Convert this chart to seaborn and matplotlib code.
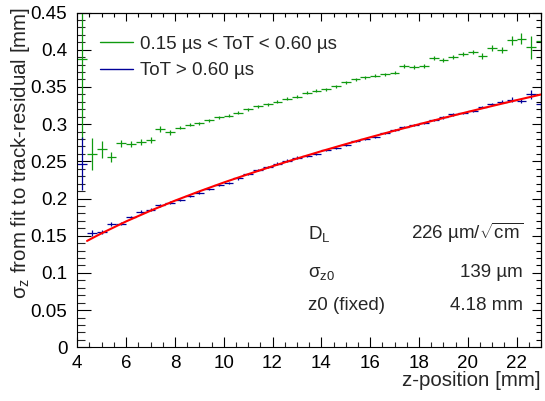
import matplotlib
matplotlib.use("Agg")
import matplotlib.pyplot as plt
from matplotlib.lines import Line2D
from matplotlib.ticker import FixedLocator, MultipleLocator
import seaborn as sns

# bin centres along z [mm], bin width 0.4 mm
Z_CENTERS = [4.2, 4.6, 5.0, 5.4, 5.8, 6.2, 6.6, 7.0, 7.4, 7.8,
             8.2, 8.6, 9.0, 9.4, 9.8, 10.2, 10.6, 11.0, 11.4, 11.8,
             12.2, 12.6, 13.0, 13.4, 13.8, 14.2, 14.6, 15.0, 15.4, 15.8,
             16.2, 16.6, 17.0, 17.4, 17.8, 18.2, 18.6, 19.0, 19.4, 19.8,
             20.2, 20.6, 21.0, 21.4, 21.8, 22.2, 22.6, 23.0]
BIN_HALF_WIDTH = 0.2

# 0.15 us < ToT < 0.60 us
SIGMA_MID_TOT = [0.388, 0.260, 0.266, 0.256, 0.274, 0.273, 0.276, 0.279, 0.294, 0.289,
                 0.295, 0.299, 0.301, 0.305, 0.309, 0.311, 0.315, 0.320, 0.324, 0.327,
                 0.330, 0.334, 0.337, 0.342, 0.345, 0.347, 0.351, 0.356, 0.360, 0.363,
                 0.365, 0.367, 0.369, 0.378, 0.377, 0.378, 0.389, 0.386, 0.390, 0.394,
                 0.397, 0.391, 0.402, 0.399, 0.413, 0.415, 0.403, 0.412]
ERR_MID_TOT = [0.110, 0.022, 0.011, 0.007, 0.005, 0.004, 0.004, 0.004, 0.004, 0.003,
               0.002, 0.002, 0.002, 0.002, 0.002, 0.002, 0.002, 0.002, 0.002, 0.002,
               0.002, 0.002, 0.002, 0.002, 0.002, 0.002, 0.002, 0.002, 0.002, 0.002,
               0.002, 0.002, 0.002, 0.003, 0.003, 0.003, 0.003, 0.003, 0.003, 0.003,
               0.003, 0.004, 0.004, 0.004, 0.006, 0.007, 0.015, 0.026]

# ToT > 0.60 us
SIGMA_HIGH_TOT = [0.247, 0.153, 0.155, 0.166, 0.166, 0.175, 0.182, 0.185, 0.191, 0.194,
                  0.198, 0.203, 0.208, 0.213, 0.218, 0.221, 0.227, 0.233, 0.238, 0.242,
                  0.247, 0.251, 0.255, 0.257, 0.260, 0.265, 0.268, 0.272, 0.277, 0.280,
                  0.283, 0.288, 0.292, 0.296, 0.299, 0.301, 0.306, 0.309, 0.313, 0.315,
                  0.318, 0.323, 0.327, 0.330, 0.333, 0.331, 0.340, 0.327]
ERR_HIGH_TOT = [0.036, 0.004, 0.003, 0.003, 0.002, 0.002, 0.002, 0.002, 0.002, 0.002,
                0.0015, 0.0015, 0.0015, 0.0015, 0.0015, 0.0015, 0.0015, 0.0015, 0.0015, 0.0015,
                0.0015, 0.0015, 0.0015, 0.0015, 0.0015, 0.0015, 0.0015, 0.0015, 0.0015, 0.0015,
                0.0015, 0.0015, 0.0015, 0.0015, 0.0015, 0.0015, 0.0015, 0.0015, 0.0015, 0.0015,
                0.0015, 0.0015, 0.0015, 0.002, 0.003, 0.003, 0.006, 0.011]

# fitted curve
FIT_Z = [4.4, 4.7, 5.0, 6.0, 7.0, 8.0, 9.0, 10.0, 11.0, 12.0, 13.0, 14.0,
         15.0, 16.0, 17.0, 18.0, 19.0, 20.0, 21.0, 22.0, 23.0]
FIT_SIGMA = [0.1430, 0.1482, 0.1533, 0.1692, 0.1836, 0.1971, 0.2096, 0.2215, 0.2327,
             0.2434, 0.2537, 0.2636, 0.2731, 0.2823, 0.2912, 0.2998, 0.3082, 0.3164,
             0.3244, 0.3322, 0.3398]

X_TICKS = [4, 6, 8, 10, 12, 14, 16, 18, 20, 22]
Y_TICKS = [0, 0.05, 0.1, 0.15, 0.2, 0.25, 0.3, 0.35, 0.4, 0.45]
Y_TICK_LABELS = ["0", "0.05", "0.1", "0.15", "0.2", "0.25", "0.3", "0.35", "0.4", "0.45"]

LEGEND_LABELS = ["0.15 µs < ToT < 0.60 µs", "ToT > 0.60 µs"]
PARAM_NAMES = ["D$_{L}$", r"$\sigma_{z0}$", "z0 (fixed)"]
PARAM_VALUES = [r"226 µm/$\sqrt{cm}$", "139 µm", "4.18 mm"]

GREEN = "#109a10"
BLUE = "#000099"
RED = "#ff0000"

sns.set_theme(style="white")
plt.rcParams["font.family"] = ["Liberation Sans", "DejaVu Sans"]
plt.rcParams["mathtext.fontset"] = "custom"
plt.rcParams["mathtext.rm"] = "Liberation Sans"
plt.rcParams["mathtext.it"] = "Liberation Sans"
plt.rcParams["mathtext.default"] = "regular"
plt.rcParams["axes.linewidth"] = 0.8
plt.rcParams["axes.edgecolor"] = "black"

FS = 13.5
FS_TITLE = 14.8

fig = plt.figure(figsize=(5.45, 4.01), dpi=100, facecolor="white")
ax = fig.add_axes([0.1418, 0.1339, 0.8509, 0.8349])
ax.set_facecolor("white")

ax.errorbar(Z_CENTERS, SIGMA_MID_TOT, xerr=BIN_HALF_WIDTH, yerr=ERR_MID_TOT,
            fmt="none", ecolor=GREEN, elinewidth=0.9, capsize=0)
ax.errorbar(Z_CENTERS, SIGMA_HIGH_TOT, xerr=BIN_HALF_WIDTH, yerr=ERR_HIGH_TOT,
            fmt="none", ecolor=BLUE, elinewidth=0.9, capsize=0)
sns.lineplot(x=FIT_Z, y=FIT_SIGMA, color=RED, linewidth=1.5, ax=ax, sort=False)

ax.set_xlim(4, 23.0)
ax.set_ylim(0, 0.45)

ax.xaxis.set_major_locator(FixedLocator(X_TICKS))
ax.xaxis.set_minor_locator(MultipleLocator(0.5))
ax.set_xticklabels([str(t) for t in X_TICKS])
ax.yaxis.set_major_locator(FixedLocator(Y_TICKS))
ax.yaxis.set_minor_locator(MultipleLocator(0.01))
ax.set_yticklabels(Y_TICK_LABELS)

ax.tick_params(axis="x", which="both", bottom=True, top=False)
ax.tick_params(axis="y", which="both", left=True, right=False)
ax.tick_params(axis="x", which="major", direction="in", length=7.2, width=0.8,
               labelsize=FS, pad=5.5, colors="black")
ax.tick_params(axis="x", which="minor", direction="in", length=3.6, width=0.8)
ax.tick_params(axis="y", which="major", direction="in", length=10, width=0.8,
               labelsize=FS, pad=7.2, colors="black")
ax.tick_params(axis="y", which="minor", direction="in", length=5.4, width=0.8)

# opposite-side ticks, shorter as in the original
top = ax.secondary_xaxis("top")
top.xaxis.set_major_locator(FixedLocator(X_TICKS))
top.xaxis.set_minor_locator(MultipleLocator(0.5))
top.tick_params(which="both", top=True, labeltop=False, direction="in", width=0.8, colors="black")
top.tick_params(which="major", length=5.8)
top.tick_params(which="minor", length=3.2)
right = ax.secondary_yaxis("right")
right.yaxis.set_major_locator(FixedLocator(Y_TICKS))
right.yaxis.set_minor_locator(MultipleLocator(0.01))
right.tick_params(which="both", right=True, labelright=False, direction="in", width=0.8, colors="black")
right.tick_params(which="major", length=6.5)
right.tick_params(which="minor", length=3.6)

ax.set_xlabel("z-position [mm]", fontsize=FS_TITLE, loc="right")
ax.xaxis.set_label_coords(1.0, -0.071)
ax.set_ylabel(r"$\sigma_{z}$ from fit to track-residual [mm]", fontsize=FS_TITLE, loc="top")
ax.yaxis.set_label_coords(-0.097, 1.016)

handles = [Line2D([], [], color=GREEN, lw=1.0), Line2D([], [], color=BLUE, lw=1.0)]
ax.legend(handles, LEGEND_LABELS, loc="upper left", bbox_to_anchor=(0.049, 0.931),
          frameon=False, fontsize=FS, handlelength=1.76, handletextpad=0.37,
          borderpad=0, borderaxespad=0, labelspacing=0.5)

rows_y = [0.3226, 0.2109, 0.1114]
for name, value, y in zip(PARAM_NAMES, PARAM_VALUES, rows_y):
    ax.text(0.498, y, name, transform=ax.transAxes, fontsize=FS, ha="left", va="baseline")
    ax.text(0.961, y, value, transform=ax.transAxes, fontsize=FS, ha="right", va="baseline")

fig.savefig("out.png", dpi=100, facecolor="white")
